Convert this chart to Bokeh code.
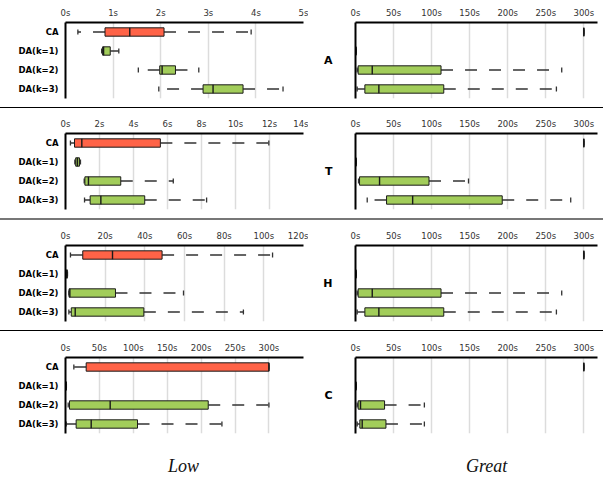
from bokeh.plotting import figure
from bokeh.models import (Range1d, FactorRange, FixedTicker, PrintfTickFormatter,
                          ColumnDataSource, Div)
from bokeh.transform import dodge
from bokeh.layouts import column, row
from bokeh.embed import file_html
from bokeh.resources import INLINE

categories = ["CA", "DA(k=1)", "DA(k=2)", "DA(k=3)"]
row_labels = ["A", "T", "H", "C"]
column_titles = ["Low", "Great"]

# stats per category: [min, q1, median, q3, max] in seconds
low_A = [[0.26, 0.83, 1.35, 2.07, 3.90],
         [0.76, 0.78, 0.80, 0.94, 1.12],
         [1.53, 1.98, 2.03, 2.31, 2.80],
         [1.96, 2.89, 3.10, 3.73, 4.57]]
low_T = [[0.29, 0.53, 0.96, 5.58, 11.96],
         [0.55, 0.60, 0.70, 0.82, 0.88],
         [1.10, 1.14, 1.35, 3.25, 6.34],
         [1.12, 1.45, 2.08, 4.66, 8.30]]
low_H = [[2.5, 8.7, 23.7, 48.7, 104.4],
         [0.5, 0.6, 0.7, 0.85, 1.0],
         [1.7, 1.8, 2.2, 25.2, 59.5],
         [1.7, 2.9, 4.9, 39.5, 89.7]]
low_C = [[12.3, 30.5, 300.0, 300.0, 300.0],
         [0.5, 0.7, 0.9, 1.1, 1.3],
         [4.0, 5.9, 65.9, 210.5, 300.0],
         [1.0, 15.7, 37.9, 106.2, 230.7]]
great_A = [[300.0, 300.0, 300.0, 300.0, 300.0],
           [0.2, 0.3, 0.5, 0.7, 1.0],
           [2.2, 3.5, 22.0, 112.4, 271.0],
           [2.2, 12.3, 30.7, 116.0, 264.0]]
great_T = [[300.0, 300.0, 300.0, 300.0, 300.0],
           [0.2, 0.3, 0.5, 0.7, 1.0],
           [4.0, 5.3, 31.6, 96.6, 148.5],
           [15.4, 40.8, 75.1, 192.8, 282.8]]
great_H = [[300.0, 300.0, 300.0, 300.0, 300.0],
           [0.2, 0.3, 0.5, 0.7, 1.0],
           [2.2, 3.5, 22.0, 112.4, 271.0],
           [2.2, 12.3, 30.7, 116.0, 264.0]]
great_C = [[300.0, 300.0, 300.0, 300.0, 300.0],
           [0.2, 0.3, 0.5, 0.7, 1.0],
           [2.2, 3.5, 6.6, 38.2, 90.5],
           [2.2, 5.7, 8.8, 40.0, 90.5]]

low_ticks = [[0, 1, 2, 3, 4, 5],
             [0, 2, 4, 6, 8, 10, 12, 14],
             [0, 20, 40, 60, 80, 100, 120],
             [0, 50, 100, 150, 200, 250, 300]]
low_xmax = [5, 14, 120, 351]
great_ticks = [0, 50, 100, 150, 200, 250, 300]
great_xmax = 318

CA_COLOR = "#FF6347"
DA_COLOR = "#A2CD5A"


def make_panel(stats, xmax, ticks, left, label):
    if left:
        w, bl, br = 308, 65, 5
    else:
        w, bl, br = 295, 47, 6
    yr = FactorRange(factors=categories[::-1], range_padding=0)
    p = figure(width=w, height=107, x_range=Range1d(0, xmax), y_range=yr,
               x_axis_location="above", output_backend="svg", toolbar_location=None,
               min_border_left=bl, min_border_right=br, min_border_top=22,
               min_border_bottom=9, outline_line_color=None,
               background_fill_color="white", border_fill_color="white")
    src = ColumnDataSource(dict(
        cat=categories,
        mn=[s[0] for s in stats], q1=[s[1] for s in stats], med=[s[2] for s in stats],
        q3=[s[3] for s in stats], mx=[s[4] for s in stats],
        color=[CA_COLOR] + [DA_COLOR] * 3,
    ))
    # whiskers (drawn outward from the box)
    p.segment(x0="q1", x1="mn", y0="cat", y1="cat", source=src,
              line_color="#333333", line_width=1.3, line_dash="12 12")
    p.segment(x0="q3", x1="mx", y0="cat", y1="cat", source=src,
              line_color="#333333", line_width=1.3, line_dash="12 12")
    # caps
    lo = dodge("cat", -0.13, range=yr)
    hi = dodge("cat", 0.13, range=yr)
    p.segment(x0="mn", x1="mn", y0=lo, y1=hi, source=src, line_color="#333333", line_width=1.3)
    p.segment(x0="mx", x1="mx", y0=lo, y1=hi, source=src, line_color="#333333", line_width=1.3)
    # boxes
    p.hbar(y="cat", left="q1", right="q3", height=0.44, source=src,
           fill_color="color", line_color="#1a1a1a", line_width=1)
    # medians
    blo = dodge("cat", -0.22, range=yr)
    bhi = dodge("cat", 0.22, range=yr)
    p.segment(x0="med", x1="med", y0=blo, y1=bhi, source=src, line_color="#1a1a1a", line_width=1.4)

    xa = p.xaxis[0]
    xa.ticker = FixedTicker(ticks=ticks)
    xa.formatter = PrintfTickFormatter(format="%ds")
    xa.axis_line_color = "black"
    xa.axis_line_width = 2
    xa.major_tick_out = 0
    xa.major_tick_in = 0
    xa.minor_tick_out = 0
    xa.minor_tick_in = 0
    xa.major_label_standoff = 5
    xa.major_label_text_font = "DejaVu Sans"
    xa.major_label_text_font_size = "8.5px"
    xa.major_label_text_color = "#333333"

    ya = p.yaxis[0]
    ya.axis_line_color = "black"
    ya.axis_line_width = 2
    ya.major_tick_out = 0
    ya.major_tick_in = 0
    if left:
        ya.major_label_standoff = 7
        ya.major_label_text_font = "DejaVu Sans"
        ya.major_label_text_font_style = "bold"
        ya.major_label_text_font_size = "8.5px"
        ya.major_label_text_color = "black"
    else:
        ya.major_label_standoff = 0
        ya.major_label_text_font_size = "1px"
        ya.major_label_text_color = None
        ya.axis_label = label
        ya.axis_label_orientation = "horizontal"
        ya.axis_label_standoff = 23
        ya.axis_label_text_font = "DejaVu Sans"
        ya.axis_label_text_font_style = "bold"
        ya.axis_label_text_font_size = "11px"
        ya.axis_label_text_color = "black"

    p.xgrid.grid_line_color = "#dcdcdc"
    p.xgrid.grid_line_width = 1.5
    p.ygrid.grid_line_color = None
    return p


low_stats = [low_A, low_T, low_H, low_C]
great_stats = [great_A, great_T, great_H, great_C]

seps = [("1.5px solid #000000", 4), ("2.5px solid #777777", 5), ("1px solid #000000", 5)]

items = []
for i in range(4):
    pl = make_panel(low_stats[i], low_xmax[i], low_ticks[i], True, row_labels[i])
    pr = make_panel(great_stats[i], great_xmax, great_ticks, False, row_labels[i])
    items.append(row(pl, pr, spacing=0))
    if i < 3:
        border, h = seps[i]
        items.append(Div(text="", width=603, height=h, margin=0,
                         styles={"border-top": border, "box-sizing": "border-box"}))

bottom_html = (
    '<div style="position:relative;width:603px;height:38px;'
    'font-family:\'Liberation Serif\',serif;font-style:italic;font-size:18px;color:#111">'
    '<span style="position:absolute;left:168px;top:12px">%s</span>'
    '<span style="position:absolute;left:466px;top:12px">%s</span></div>'
) % (column_titles[0], column_titles[1])
items.append(Div(text=bottom_html, width=603, height=38, margin=0))

layout = column(*items, spacing=0)

open("out.html", "w").write(file_html(layout, INLINE))
